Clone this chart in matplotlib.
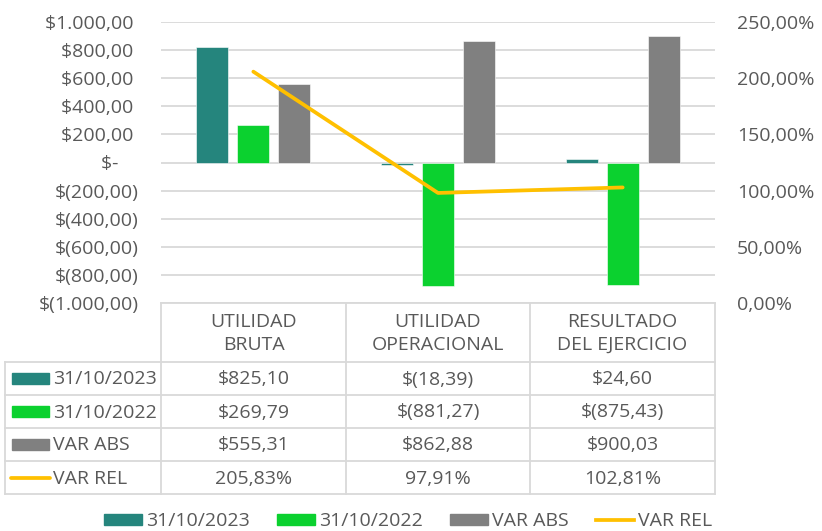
import matplotlib
matplotlib.use('Agg')
import matplotlib.pyplot as plt
from matplotlib.patches import Rectangle, Patch
from matplotlib.lines import Line2D
import numpy as np

plt.rcParams['font.family'] = ['Open Sans', 'DejaVu Sans']

categories = ['UTILIDAD\nBRUTA', 'UTILIDAD\nOPERACIONAL', 'RESULTADO\nDEL EJERCICIO']
series_names = ['31/10/2023', '31/10/2022', 'VAR ABS', 'VAR REL']
s2023 = [825.10, -18.39, 24.60]
s2022 = [269.79, -881.27, -875.43]
var_abs = [555.31, 862.88, 900.03]
var_rel = [205.83, 97.91, 102.81]
left_ticks = [-1000, -800, -600, -400, -200, 0, 200, 400, 600, 800, 1000]
right_ticks = [0, 50, 100, 150, 200, 250]

colors = ['#25857D', '#0BD12F', '#808080', '#FFC000']
txt = '#595959'
grid = '#D9D9D9'
fs = 14


def money(v):
    if v == 0:
        return '$-    '
    s = f'{abs(v):,.2f}'.replace(',', 'X').replace('.', ',').replace('X', '.')
    return f'$({s})' if v < 0 else f'${s} '


def money_cell(v):
    s = f'{abs(v):,.2f}'.replace(',', 'X').replace('.', ',').replace('X', '.')
    return f'$({s})' if v < 0 else f'${s}'


def pct(v):
    return f'{v:.2f}%'.replace('.', ',')


W, H = 822, 531
fig = plt.figure(figsize=(W / 100, H / 100), dpi=100)

# plot area in pixels
x0, x1, ytop, ybot = 161, 715, 22, 303
ax = fig.add_axes([x0 / W, 1 - ybot / H, (x1 - x0) / W, (ybot - ytop) / H])
ax2 = ax.twinx()

x = np.arange(len(categories))
bw = 0.175
off = 0.222
ax.bar(x - off, s2023, bw, color=colors[0], edgecolor='white', linewidth=0.4, zorder=3)
ax.bar(x, s2022, bw, color=colors[1], edgecolor='white', linewidth=0.4, zorder=3)
ax.bar(x + off, var_abs, bw, color=colors[2], edgecolor='white', linewidth=0.4, zorder=3)

ax.set_xlim(-0.5, len(categories) - 0.5)
ax.set_ylim(-1000, 1000)
ax.set_yticks(left_ticks)
ax.set_yticklabels([money(t) for t in left_ticks])
ax.set_xticks([])
ax.grid(axis='y', color=grid, linewidth=1.3, zorder=0)
ax.set_axisbelow(True)

ax2.plot(x, var_rel, color=colors[3], linewidth=2.7, solid_capstyle='round', zorder=4)
ax2.set_ylim(0, 250)
ax2.set_yticks(right_ticks)
ax2.set_yticklabels([pct(t) for t in right_ticks])

for a in (ax, ax2):
    for sp in a.spines.values():
        sp.set_visible(False)
    a.tick_params(length=0, labelsize=fs, colors=txt)
ax.tick_params(axis='y', pad=16)
ax2.tick_params(axis='y', pad=16)

# data table drawn in pixel coordinates
tab = fig.add_axes([0, 0, 1, 1])
tab.set_xlim(0, W)
tab.set_ylim(H, 0)
tab.axis('off')

cols = [x0, 346, 530, x1]
lx = 5
hdr_bot = 362
row_h = 33
rows_y = [hdr_bot + i * row_h for i in range(5)]
lc = dict(color=grid, linewidth=1.3)

tab.plot([x0, x1], [ybot, ybot], **lc)
for cx in cols:
    tab.plot([cx, cx], [ybot, rows_y[-1]], **lc)
for ry in rows_y:
    tab.plot([lx, x1], [ry, ry], **lc)
tab.plot([lx, lx], [hdr_bot, rows_y[-1]], **lc)

for i, c in enumerate(categories):
    tab.text((cols[i] + cols[i + 1]) / 2, (ybot + hdr_bot) / 2 + 1, c, ha='center', va='center',
             fontsize=fs, color=txt, linespacing=1.3)

table_vals = [
    [money_cell(v) for v in s2023],
    [money_cell(v) for v in s2022],
    [money_cell(v) for v in var_abs],
    [pct(v) for v in var_rel],
]
for r, vals in enumerate(table_vals):
    cy = (rows_y[r] + rows_y[r + 1]) / 2
    if r < 3:
        tab.add_patch(Rectangle((12, cy - 5.5), 37, 11, color=colors[r]))
    else:
        tab.plot([11, 50], [cy, cy], color=colors[3], linewidth=2.7, solid_capstyle='round')
    tab.text(53, cy + 1, series_names[r], ha='left', va='center', fontsize=fs, color=txt)
    for i, v in enumerate(vals):
        tab.text((cols[i] + cols[i + 1]) / 2, cy + 1, v, ha='center', va='center', fontsize=fs, color=txt)

handles = [Patch(color=colors[0]), Patch(color=colors[1]), Patch(color=colors[2]),
           Line2D([], [], color=colors[3], linewidth=2.7)]
fig.legend(handles, series_names, loc='center', bbox_to_anchor=(408 / W, 1 - 521 / H), ncol=4,
           frameon=False, fontsize=fs, labelcolor=txt, handlelength=1.95, handleheight=0.5,
           handletextpad=0.2, columnspacing=1.4, borderpad=0)

fig.savefig('out.png', dpi=100)
